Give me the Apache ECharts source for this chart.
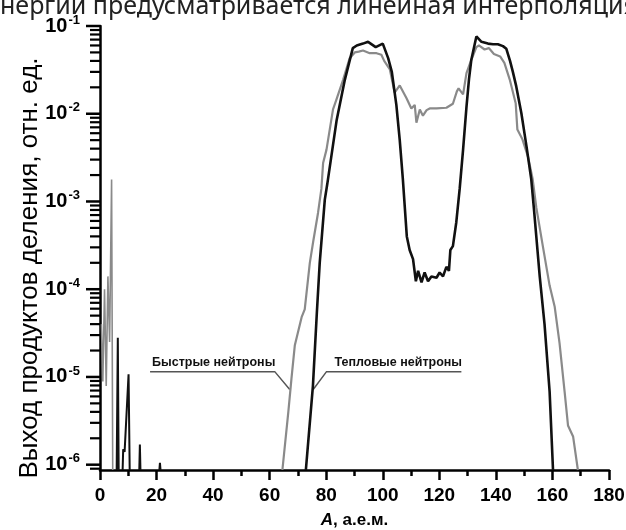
<!DOCTYPE html>
<html><head><meta charset="utf-8">
<script src="https://cdn.jsdelivr.net/npm/echarts@6/dist/echarts.min.js"></script>
<style>html,body{margin:0;padding:0;background:#fff;overflow:hidden}#c{width:626px;height:530px}</style>
</head><body><div id="c"></div>
<script>
// ---- data ----
const xTickLabels = [0, 20, 40, 60, 80, 100, 120, 140, 160, 180];
const yMajorTicks = [1e-6, 1e-5, 1e-4, 1e-3, 1e-2, 1e-1];
const yMin = 8.7e-7, yMax = 1e-1;

// Thermal neutrons (black), main curve
const thermalA = [72.8, 75.3, 76.7, 77.7, 79.5, 80.4, 83.7, 86.6, 89.4, 90.8, 93.0, 94.8, 97.5, 100.0, 101.9, 103.2, 104.8, 106.0, 107.1, 108.5, 109.5, 110.7, 111.7, 112.5, 113.7, 114.8, 116.0, 117.2, 119.0, 120.1, 121.3, 122.5, 123.4, 123.9, 124.8, 126.0, 127.2, 128.4, 129.6, 130.5, 131.3, 133.1, 134.9, 137.2, 139.0, 140.7, 142.5, 143.7, 145.0, 146.0, 147.2, 149.0, 150.8, 152.5, 153.5, 155.5, 157.2, 159.0, 160.2];
const thermalY = [8.7e-7, 7.9e-6, 5.5e-5, 2.0e-4, 1.05e-3, 1.6e-3, 8.5e-3, 2.45e-2, 5.6e-2, 6.0e-2, 6.3e-2, 6.6e-2, 5.75e-2, 6.3e-2, 4.3e-2, 3.0e-2, 1.26e-2, 5.0e-3, 1.8e-3, 4.0e-4, 2.8e-4, 2.2e-4, 1.23e-4, 1.62e-4, 1.2e-4, 1.55e-4, 1.23e-4, 1.4e-4, 1.35e-4, 1.55e-4, 1.4e-4, 1.8e-4, 1.62e-4, 2.8e-4, 3.1e-4, 5.8e-4, 1.4e-3, 3.9e-3, 1.2e-2, 2.5e-2, 4.1e-2, 7.6e-2, 6.6e-2, 6.3e-2, 6.2e-2, 6.2e-2, 5.9e-2, 5.5e-2, 4.0e-2, 3.0e-2, 2.05e-2, 1.02e-2, 4.3e-3, 1.8e-3, 7.9e-4, 1.4e-4, 4.0e-5, 6.8e-6, 8.7e-7];

// Thermal neutrons, light (ternary) fragments; null = gap
const thermalLightA = [5.9, 6.3, 6.6, 7.0, 8.0, 8.2, 8.7, 10.1, 10.5, 11.5, 13.9, 14.1, 14.3, 15.0, 21.0, 21.2, 21.4];
const thermalLightY = [8.7e-7, 2.8e-5, 8.7e-7, null, 8.7e-7, 1.5e-6, 1.4e-6, 1.07e-5, 8.7e-7, null, 8.7e-7, 1.7e-6, 8.7e-7, null, 8.7e-7, 1.05e-6, 8.7e-7];

// Fast neutrons (grey), main curve
const fastA = [64.5, 66.6, 67.7, 68.9, 71.3, 72.4, 74.2, 75.4, 77.1, 78.3, 78.9, 80.1, 82.4, 83.6, 86.0, 88.3, 90.1, 91.5, 93.0, 95.4, 97.8, 99.5, 100.5, 102.5, 104.2, 106.0, 108.4, 110.1, 111.3, 111.9, 113.1, 114.2, 115.5, 116.6, 119.0, 122.5, 124.8, 126.2, 126.8, 128.4, 129.6, 131.3, 133.1, 134.0, 136.0, 137.5, 139.3, 141.5, 143.0, 144.9, 147.0, 147.6, 149.3, 151.4, 153.0, 154.3, 156.6, 159.0, 160.8, 162.5, 164.3, 165.5, 167.3, 169.0];
const fastY = [8.7e-7, 4.0e-6, 9.5e-6, 2.3e-5, 4.8e-5, 5.9e-5, 2.0e-4, 3.5e-4, 7.4e-4, 1.4e-3, 2.75e-3, 3.9e-3, 1.12e-2, 1.45e-2, 2.45e-2, 4.3e-2, 5.0e-2, 5.1e-2, 5.25e-2, 4.9e-2, 4.9e-2, 4.7e-2, 4.0e-2, 3.2e-2, 1.74e-2, 2.1e-2, 1.5e-2, 1.15e-2, 1.26e-2, 7.9e-3, 1.12e-2, 9.5e-3, 1.1e-2, 1.15e-2, 1.15e-2, 1.17e-2, 1.3e-2, 1.8e-2, 1.95e-2, 1.66e-2, 2.9e-2, 4.1e-2, 5.75e-2, 6.0e-2, 5.4e-2, 5.6e-2, 4.8e-2, 4.5e-2, 3.8e-2, 2.45e-2, 1.32e-2, 6.6e-3, 5.2e-3, 3.2e-3, 1.8e-3, 8.5e-4, 3.1e-4, 1.1e-4, 6.3e-5, 2.45e-5, 6.8e-6, 2.8e-6, 2.1e-6, 8.7e-7];

// Fast neutrons, light fragments
const fastLightA = [0.5, 1.0, 1.6, 2.2, 2.8, 3.4, 4.1, 4.5];
const fastLightY = [4.0e-5, 8.9e-6, 1.0e-4, 7.9e-6, 1.4e-4, 2.5e-5, 1.78e-3, 8.7e-7];

// ---- build ----
const pairs = (a, y) => a.map((v, i) => [v, y[i] === null ? '-' : y[i]]);
const yMinorTicks = [9e-7];
for (let e = -6; e <= -2; e++) for (let k = 2; k <= 9; k++) yMinorTicks.push(+(k * Math.pow(10, e)).toPrecision(3));

const FONT = "'Liberation Sans',Arial,sans-serif";
const BLACK = '#111', GREY = '#8a8a8a';

// tick marks on the y axis drawn through the axis scale (api.coord)
const tickSeries = (vals, len, width) => ({
  type: 'custom', silent: true, clip: false, z: 5, yAxisIndex: 0,
  data: vals.map(v => [0, v]),
  renderItem: (params, api) => {
    const p = api.coord([0, api.value(1)]);
    return {type: 'line', shape: {x1: p[0] - len, y1: p[1], x2: p[0], y2: p[1]},
            style: {stroke: '#000', lineWidth: width}};
  }
});

const chart = echarts.init(document.getElementById('c'), null, {renderer: 'canvas'});
chart.setOption({
  animation: false,
  backgroundColor: '#fff',
  grid: {left: 100, right: 17, top: 26, bottom: 60, containLabel: false, outerBoundsMode: 'none'},
  xAxis: {
    type: 'value', min: 0, max: 180, interval: 20,
    axisLine: {lineStyle: {color: '#000', width: 2.5}},
    axisTick: {length: 10, lineStyle: {color: '#000', width: 2.5}},
    minorTick: {show: true, splitNumber: 2, length: 6, lineStyle: {color: '#000', width: 2.5}},
    splitLine: {show: false},
    axisLabel: {
      margin: 16, color: '#000', fontFamily: FONT, fontWeight: 'bold', fontSize: 19,
      customValues: xTickLabels
    },
    name: '{i|A}, а.е.м.', nameLocation: 'middle', nameGap: 42,
    nameTextStyle: {
      color: '#000', fontFamily: FONT, fontWeight: 'bold', fontSize: 17,
      rich: {i: {fontStyle: 'italic', fontWeight: 'bold', fontFamily: FONT, fontSize: 17, color: '#000'}}
    }
  },
  yAxis: {
    type: 'log', logBase: 10, min: yMin, max: yMax, position: 'left',
    splitLine: {show: false}, minorTick: {show: false},
    axisLine: {show: true, lineStyle: {color: '#000', width: 2.5}},
    axisTick: {show: false},
    axisLabel: {
      show: true, margin: 20, customValues: yMajorTicks,
      formatter: v => '{b|10}{s|' + Math.round(Math.log10(v)) + '}',
      rich: {
        b: {fontFamily: FONT, fontWeight: 'bold', fontSize: 20, color: '#000'},
        s: {fontFamily: FONT, fontWeight: 'bold', fontSize: 13, color: '#000', padding: [0, 0, 12, 1]}
      }
    }
  },
  series: [
    tickSeries(yMinorTicks, 10, 2.2),
    tickSeries(yMajorTicks, 14, 2.5),
    {type: 'line', name: 'fastLight', data: pairs(fastLightA, fastLightY), showSymbol: false, connectNulls: false,
     lineStyle: {color: GREY, width: 1.6}, z: 2},
    {type: 'line', name: 'fast', data: pairs(fastA, fastY), showSymbol: false,
     lineStyle: {color: GREY, width: 2.2}, z: 2},
    {type: 'line', name: 'thermalLight', data: pairs(thermalLightA, thermalLightY), showSymbol: false, connectNulls: false,
     lineStyle: {color: BLACK, width: 2}, z: 3},
    {type: 'line', name: 'thermal', data: pairs(thermalA, thermalY), showSymbol: false,
     lineStyle: {color: BLACK, width: 2.6}, z: 3}
  ]
});

// annotations anchored in data space
const px = p => chart.convertToPixel({gridIndex: 0}, p);
const uY = 1.15e-5, tipY = 7.2e-6;
const f0 = px([17.7, uY]), f1 = px([61.8, uY]), f2 = px([67.1, tipY]);
const t0 = px([80.1, uY]), t1 = px([127.8, uY]), t2 = px([75.4, tipY]);
const annFont = "bold 12.5px 'Liberation Sans', Arial, sans-serif";
chart.setOption({
  graphic: [
    {type: 'text', x: 0, y: 19, style: {text: 'нергии предусматривается линейная интерполяция', font: "25px 'Noto Sans', sans-serif", fill: '#222', textVerticalAlign: 'bottom'}},
    {type: 'text', x: 30, y: 268, rotation: Math.PI / 2,
     style: {text: 'Выход продуктов деления, отн. ед.', font: "26px 'Liberation Sans', Arial, sans-serif", fill: '#000', textAlign: 'center', textVerticalAlign: 'middle'}},
    {type: 'polyline', shape: {points: [f0, f1, f2]}, style: {stroke: '#555', lineWidth: 1.5, fill: null}},
    {type: 'polyline', shape: {points: [t1, t0, t2]}, style: {stroke: '#555', lineWidth: 1.5, fill: null}},
    {type: 'text', x: f0[0] + 2, y: f0[1] - 3, style: {text: 'Быстрые нейтроны', font: annFont, fill: '#111', textVerticalAlign: 'bottom'}},
    {type: 'text', x: t0[0] + 8, y: t0[1] - 3, style: {text: 'Тепловые нейтроны', font: annFont, fill: '#111', textVerticalAlign: 'bottom'}}
  ]
});
</script>
</body></html>
